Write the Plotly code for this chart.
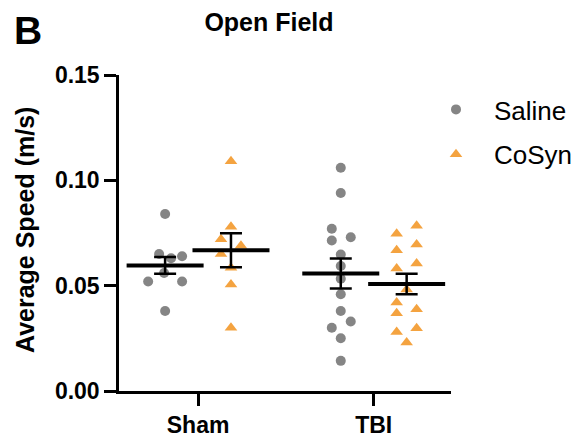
import plotly.graph_objects as go

groups = ["Sham", "TBI"]
series = ["Saline", "CoSyn"]

sham_saline = [0.084, 0.065, 0.063, 0.064, 0.052, 0.056, 0.052, 0.038]
sham_cosyn = [0.109, 0.078, 0.072, 0.069, 0.065, 0.0585, 0.0506, 0.030]
tbi_saline = [0.106, 0.094, 0.077, 0.073, 0.0714, 0.0648, 0.0593, 0.0533,
              0.0459, 0.038, 0.033, 0.030, 0.025, 0.0143]
tbi_cosyn = [0.0785, 0.0747, 0.0695, 0.0668, 0.0605, 0.0582, 0.0482, 0.042,
             0.0369, 0.0388, 0.028, 0.0298, 0.023]

means = {"Saline": [0.0596, 0.0558], "CoSyn": [0.0668, 0.0508]}
sems = {"Saline": [0.0040, 0.0071], "CoSyn": [0.0081, 0.0049]}

y_ticks = [0.0, 0.05, 0.10, 0.15]

# horizontal spread of points (in pixels), layout only
PX = 176.0
jit_sham_saline = [0, -6, 6, 17, -17, -1, 17, 0]
jit_sham_cosyn = [0, 0, -10, 10, -10, 0, 0, 0]
jit_tbi_saline = [0, 0, -9, 10, -9, 0, 0, 0, 0, 0, 10, -9, 0, 0]
jit_tbi_cosyn = [10, -10, 10, -10, 10, -10, 0, -10, -10, 10, -10, 10, 0]

OFF = {"Saline": -33 / PX, "CoSyn": 33 / PX}
COL = {"Saline": "#858585", "CoSyn": "#F4A340"}
SYM = {"Saline": "circle", "CoSyn": "triangle-up"}

data = {
    "Saline": [(0, sham_saline, jit_sham_saline), (1, tbi_saline, jit_tbi_saline)],
    "CoSyn": [(0, sham_cosyn, jit_sham_cosyn), (1, tbi_cosyn, jit_tbi_cosyn)],
}

fig = go.Figure()
for i, s in enumerate(series):
    xs, ys = [], []
    for g, vals, jit in data[s]:
        for v, j in zip(vals, jit):
            xs.append(g + OFF[s] + j / PX)
            ys.append(v)
    fig.add_trace(go.Scatter(
        x=xs, y=ys, mode="markers", name=s, legendgroup=s,
        marker=dict(symbol=SYM[s], size=10 if s == "Saline" else 11,
                    color=COL[s], line=dict(width=0)),
        cliponaxis=False,
    ))

for s in series:
    fig.add_trace(go.Scatter(
        x=[g + OFF[s] for g in range(len(groups))], y=means[s],
        mode="markers", showlegend=False,
        marker=dict(symbol="line-ew", size=55, color="black",
                    line=dict(width=4, color="black")),
        error_y=dict(type="data", array=sems[s], color="black",
                     thickness=2.5, width=11),
        cliponaxis=False,
    ))

W, H = 578, 441
L, R, T, B = 119, 127, 75, 50
pw, ph = W - L - R, H - T - B

def px2paper(x, y):
    return (x - L) / pw, (H - B - y) / ph

FONT = "Liberation Sans, Arial, sans-serif"

ax, ay = px2paper(28, 31)
yx, yy = px2paper(25, 230)

fig.update_layout(
    width=W, height=H,
    margin=dict(l=L, r=R, t=T, b=B, pad=0, autoexpand=False),
    plot_bgcolor="white", paper_bgcolor="white",
    font=dict(family=FONT, color="black"),
    title=dict(text="<b>Open Field</b>", x=269 / W, xref="container",
               xanchor="center", y=1 - 22 / H, yref="container",
               yanchor="middle", font=dict(size=25, family=FONT)),
    xaxis=dict(range=[-0.45, 1.44], tickvals=[0, 1],
               ticktext=["<b>%s</b>" % g for g in groups],
               showline=True, linecolor="black", linewidth=2.5,
               ticks="outside", ticklen=12, tickwidth=2.5, tickcolor="black",
               showgrid=False, zeroline=False, ticklabelstandoff=0,
               automargin=False,
               tickfont=dict(size=23, family=FONT)),
    yaxis=dict(range=[0, 0.15], tickvals=y_ticks,
               ticktext=["<b>%.2f</b>" % v for v in y_ticks],
               showline=True, linecolor="black", linewidth=2.5,
               ticks="outside", ticklen=12, tickwidth=2.5, tickcolor="black",
               showgrid=False, zeroline=False, automargin=False,
               tickfont=dict(size=23, family=FONT)),
    legend=dict(x=px2paper(418, 0)[0], xanchor="left",
                y=px2paper(0, 86)[1], yanchor="top",
                font=dict(size=26, family=FONT),
                itemwidth=66, tracegroupgap=8, traceorder="grouped",
                bgcolor="rgba(0,0,0,0)"),
    annotations=[
        dict(text="<b>B</b>", x=ax, y=ay, xref="paper", yref="paper",
             showarrow=False, xanchor="center", yanchor="middle",
             font=dict(size=39, family=FONT)),
        dict(text="<b>Average Speed (m/s)</b>", x=yx, y=yy, xref="paper",
             yref="paper", showarrow=False, textangle=-90,
             xanchor="center", yanchor="middle",
             font=dict(size=25, family=FONT)),
    ],
)

fig.write_html("out.html")
